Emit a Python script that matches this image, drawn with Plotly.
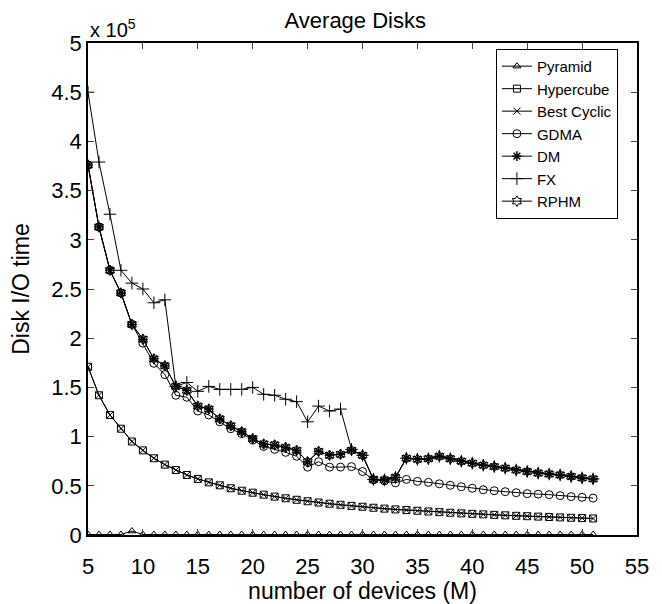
import plotly.graph_objects as go

M = list(range(5, 52))

pyramid = [500, 500, 500, 500, 4000, 500, 500, 500, 500, 500, 500, 500, 500, 500, 500, 500,
           500, 500, 500, 500, 500, 500, 500, 500, 500, 500, 500, 500, 500, 500, 500, 500,
           500, 500, 500, 500, 500, 500, 500, 500, 500, 500, 500, 500, 500, 500, 500]

hypercube = [171000, 142000, 122000, 108000, 95000, 86000, 78000, 71500, 66000, 61000,
             57000, 53500, 50500, 47500, 45000, 43000, 41000, 39000, 37300, 35800, 34300,
             33000, 31800, 30700, 29600, 28700, 27700, 26800, 26000, 25300, 24600, 23900,
             23200, 22600, 22000, 21500, 21000, 20500, 20000, 19500, 19100, 18700, 18300,
             17900, 17500, 17200, 16800]

best_cyclic = [171000, 142000, 122000, 108000, 95000, 86000, 78000, 71500, 66000, 61000,
               57000, 53500, 50500, 47500, 45000, 43000, 41000, 39000, 37300, 35800, 34300,
               33000, 31800, 30700, 29600, 28700, 27700, 26800, 26000, 25300, 24600, 23900,
               23200, 22600, 22000, 21500, 21000, 20500, 20000, 19500, 19100, 18700, 18300,
               17900, 17500, 17200, 16800]

gdma = [376000, 313000, 269000, 246000, 214000, 195000, 174500, 163000, 142000, 140000,
        126000, 122000, 115000, 108000, 103000, 96500, 90000, 87000, 84000, 80000, 69000,
        74500, 69000, 69000, 69500, 64500, 56000, 55000, 53000, 56500, 54500, 53500,
        52000, 50500, 49000, 47500, 46000, 45000, 44000, 43000, 42000, 41500, 41000,
        40000, 39000, 38300, 37500]

dm = [376000, 313000, 269000, 246000, 214000, 199000, 179000, 172000, 151000, 147000,
      131000, 128000, 118000, 111000, 105000, 98000, 92500, 91500, 89000, 86000, 74500,
      85000, 81000, 82000, 86000, 81000, 56500, 56000, 58500, 78000, 77000, 77500,
      80000, 77500, 75000, 73000, 71000, 69500, 68000, 66000, 64500, 63000, 62000,
      61000, 59500, 58000, 57000]

fx = [450000, 379000, 326000, 269000, 256000, 250000, 236000, 239000, 151000, 155000,
      146000, 151000, 148000, 148000, 148000, 150000, 143000, 142000, 138000, 135500,
      115000, 131000, 126000, 128000, 87000, 81000, 56500, 56000, 58500, 78000, 77000,
      77500, 80000, 77500, 75000, 73000, 71000, 69500, 68000, 66000, 64500, 63000,
      62000, 61000, 59500, 58000, 57000]

rphm = [376000, 313000, 269000, 246000, 214000, 199000, 179000, 172000, 151000, 147000,
        131000, 128000, 118000, 111000, 105000, 98000, 92500, 91500, 89000, 86000, 74500,
        85000, 81000, 82000, 86000, 81000, 56500, 56000, 58500, 78000, 77000, 77500,
        80000, 77500, 75000, 73000, 71000, 69500, 68000, 66000, 64500, 63000, 62000,
        61000, 59500, 58000, 57000]

x_ticks = [5, 10, 15, 20, 25, 30, 35, 40, 45, 50, 55]
y_tickvals = [0, 50000, 100000, 150000, 200000, 250000, 300000, 350000, 400000, 450000, 500000]
y_ticktext = ["0", "0.5", "1", "1.5", "2", "2.5", "3", "3.5", "4", "4.5", "5"]

series = [
    ("Pyramid", pyramid, "triangle-up-open", 7, 1),
    ("Hypercube", hypercube, "square-open", 7, 1),
    ("Best Cyclic", best_cyclic, "x-thin-open", 7, 1),
    ("GDMA", gdma, "circle-open", 8, 1),
    ("DM", dm, "asterisk-open", 8, 1.5),
    ("FX", fx, "cross-thin-open", 9, 1),
    ("RPHM", rphm, "hexagram-open", 8, 1),
]

FONT = "Liberation Sans, Arial, Helvetica, sans-serif"

fig = go.Figure()
for name, vals, sym, sz, mlw in series:
    fig.add_trace(go.Scatter(
        x=M, y=vals, name=name, mode="lines+markers",
        line=dict(color="black", width=1),
        marker=dict(symbol=sym, size=sz, color="black",
                    line=dict(color="black", width=mlw)),
    ))

fig.update_layout(
    template="none",
    width=654, height=596,
    margin=dict(l=80, r=25, t=35, b=69, autoexpand=False),
    paper_bgcolor="white", plot_bgcolor="white",
    font=dict(family=FONT, color="black", size=22),
    title=dict(text="Average Disks", x=0.531, xanchor="center", y=0.98, yanchor="middle",
               font=dict(size=22)),
    showlegend=True,
    legend=dict(x=0.743, xanchor="left", y=0.988, yanchor="top",
                bgcolor="white", bordercolor="black", borderwidth=1,
                font=dict(size=15), tracegroupgap=0, itemwidth=30),
    xaxis=dict(range=[5, 55], tickvals=x_ticks, ticks="inside", ticklen=6,
               showline=True, linecolor="black", linewidth=1.5, mirror="ticks",
               showgrid=False, zeroline=False, tickfont=dict(size=22), automargin=False,
               ticklabelstandoff=11,
               title=dict(text="number of devices (M)", font=dict(size=23), standoff=0)),
    yaxis=dict(range=[0, 500000], tickvals=y_tickvals, ticktext=y_ticktext,
               ticks="inside", ticklen=6, automargin=False,
               showline=True, linecolor="black", linewidth=1.5, mirror="ticks",
               showgrid=False, zeroline=False, tickfont=dict(size=22),
               title=dict(text="Disk I/O time", font=dict(size=23), standoff=16)),
    annotations=[dict(text="x 10<sup>5</sup>", xref="paper", yref="paper",
                      x=0.0, y=1.0, xanchor="left", yanchor="bottom",
                      showarrow=False, font=dict(size=20))],
)

fig.write_html("out.html")
